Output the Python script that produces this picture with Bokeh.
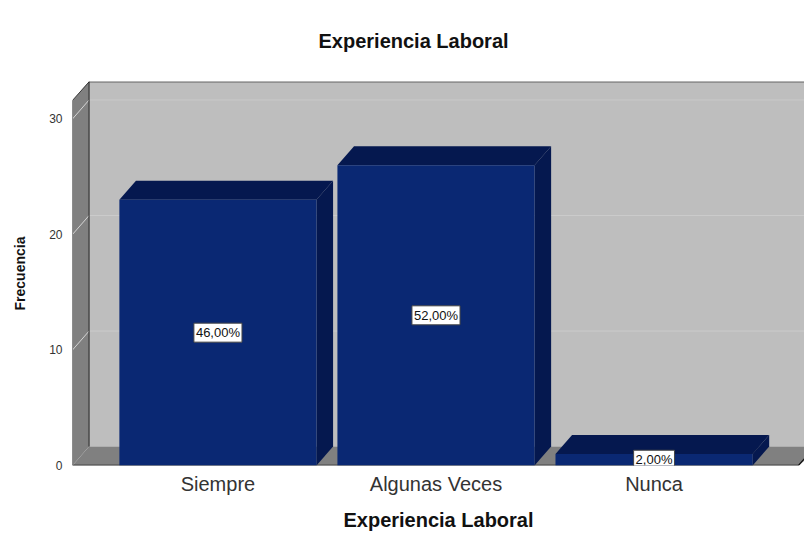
from bokeh.embed import file_html
from bokeh.resources import INLINE
from bokeh.plotting import figure
from bokeh.core.properties import value
from bokeh.models import FixedTicker

categories = ["Siempre", "Algunas Veces", "Nunca"]
frequencies = [23, 26, 1]
percent_labels = ["46,00%", "52,00%", "2,00%"]
y_ticks = [0, 10, 20, 30]

FONT = "Liberation Sans"
FRONT, SHADE = "#0A2873", "#05184F"
WALL, SIDE = "#BEBEBE", "#808080"
BAR_W = 0.904
DX, DY = 0.076, 1.64      # oblique depth of the 3D box, in data units
X0, X1 = -0.667, 2.69     # visible x range
X_FRONT_END = 2.663
Y_FRONT_TOP = 31.6
Y1 = Y_FRONT_TOP + DY

p = figure(width=804, height=533, output_backend="svg", toolbar_location=None,
           x_range=(X0, X1), y_range=(0, Y1),
           min_border_left=72, min_border_right=0, min_border_top=81, min_border_bottom=68)
p.outline_line_color = None
p.xgrid.visible = False
p.ygrid.visible = False

p.title.text = "Experiencia Laboral"
p.title.align = "left"
p.title.offset = 246
p.title.vertical_align = "top"
p.title.standoff = 55
p.title.text_font = FONT
p.title.text_font_size = "20px"
p.title.text_font_style = "bold"
p.title.text_color = "#111111"

# walls and floor
p.patch([X0 + DX, X1, X1, X0 + DX], [DY, DY, Y1, Y1], fill_color=WALL, line_color=None)
p.patch([X0, X0 + DX, X0 + DX, X0], [0, DY, Y1, Y_FRONT_TOP], fill_color=SIDE, line_color=None)
p.patch([X0, X0 + DX, X1 + DX, X_FRONT_END], [0, DY, DY, 0], fill_color=SIDE, line_color=None)

# gridlines on the back wall and the side wall
tick_x0 = [X0] * len(y_ticks[1:])
tick_x1 = [X0 + DX] * len(y_ticks[1:])
p.segment(tick_x0, y_ticks[1:], tick_x1, [t + DY for t in y_ticks[1:]], line_color="#D4D4D4", line_width=1)
p.segment(tick_x1, [t + DY for t in y_ticks[1:]], [X1] * 3, [t + DY for t in y_ticks[1:]], line_color="#CBCBCB", line_width=1)

# frame edges
p.line([X0, X0, X0 + DX, X1], [0, Y_FRONT_TOP, Y1 - 0.03, Y1 - 0.03], line_color="#3A3A3A", line_width=1)
p.line([X0 + DX, X0 + DX], [DY, Y1], line_color="#222222", line_width=1)
p.line([X0, X_FRONT_END, X_FRONT_END + DX], [0.02, 0.02, DY], line_color="#111111", line_width=1.2)

# bars
xs = list(range(len(categories)))
for x, f in zip(xs, frequencies):
    l, r = x - BAR_W / 2, x + BAR_W / 2
    p.patch([r, r + DX, r + DX, r], [0, DY, f + DY, f], fill_color=SHADE, line_color=None)
    p.patch([l, l + DX, r + DX, r], [f, f + DY, f + DY, f], fill_color=SHADE, line_color=None)
p.quad(left=[x - BAR_W / 2 for x in xs], right=[x + BAR_W / 2 for x in xs],
       bottom=0, top=frequencies, fill_color=FRONT, line_color=None)

# data labels
p.text(x=xs, y=[f / 2 for f in frequencies], text=percent_labels,
       text_font=value(FONT), text_font_size="13px", text_color="#111111",
       text_align="center", text_baseline="middle",
       background_fill_color="white", border_line_color="#444444", border_line_width=1,
       padding=2)

# axes
p.yaxis.ticker = FixedTicker(ticks=y_ticks)
p.yaxis.axis_line_color = None
p.yaxis.major_tick_line_color = None
p.yaxis.minor_tick_line_color = None
p.yaxis.major_label_text_font = FONT
p.yaxis.major_label_text_font_size = "12px"
p.yaxis.major_label_text_color = "#333333"
p.yaxis.major_label_standoff = 4
p.yaxis.axis_label = "Frecuencia"
p.yaxis.axis_label_text_font = FONT
p.yaxis.axis_label_text_font_size = "14px"
p.yaxis.axis_label_text_font_style = "bold"
p.yaxis.axis_label_text_color = "#111111"
p.yaxis.axis_label_standoff = 18

p.xaxis.ticker = FixedTicker(ticks=xs)
p.xaxis.major_label_overrides = dict(zip(xs, categories))
p.xaxis.axis_line_color = None
p.xaxis.major_tick_line_color = None
p.xaxis.minor_tick_line_color = None
p.xaxis.major_label_text_font = FONT
p.xaxis.major_label_text_font_size = "20px"
p.xaxis.major_label_text_color = "#333333"
p.xaxis.major_label_standoff = 1
p.xaxis.axis_label = "Experiencia Laboral"
p.xaxis.axis_label_text_font = FONT
p.xaxis.axis_label_text_font_size = "20px"
p.xaxis.axis_label_text_font_style = "bold"
p.xaxis.axis_label_text_color = "#111111"
p.xaxis.axis_label_standoff = 11

open("out.html", "w").write(file_html(p, INLINE))
